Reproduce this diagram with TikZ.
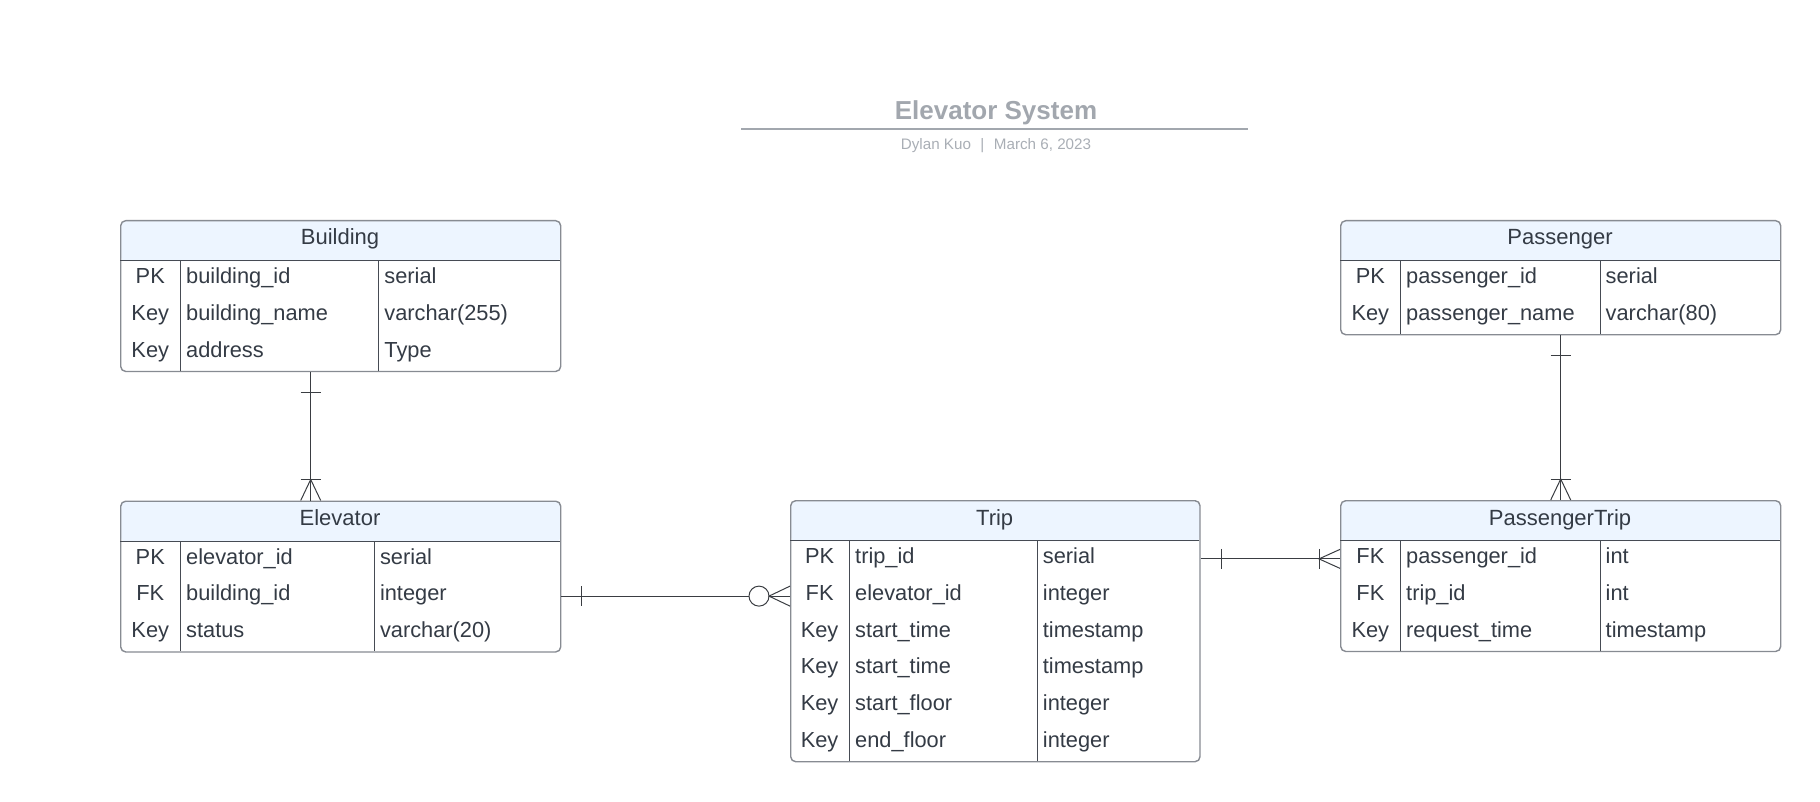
\documentclass[tikz,border=0pt]{standalone}
\usepackage{fontspec}
\setmainfont{Liberation Sans}
\usetikzlibrary{positioning,calc}
\definecolor{hdrblue}{HTML}{EDF5FF}
\definecolor{edgegray}{HTML}{878B92}
\definecolor{gridgray}{HTML}{464B53}
\definecolor{inkdark}{HTML}{343B45}
\definecolor{titlegray}{HTML}{A2A7AE}
\definecolor{subgray}{HTML}{A9AEB5}
\definecolor{linkgray}{HTML}{3A3D42}
\tikzset{
  tbl/.style={draw=edgegray,line width=1.4pt,rounded corners=5pt,fill=white,anchor=north west,inner sep=0pt,
    path picture={\fill[hdrblue] (path picture bounding box.north west) rectangle ([yshift=-40.5pt]path picture bounding box.north east);}},
  hdr/.style={font=\fontsize{22}{26}\selectfont,text=inkdark,anchor=base,inner sep=0pt},
  fld/.style={font=\fontsize{21.8}{26}\selectfont,text=inkdark,inner sep=0pt},
  grid/.style={draw=gridgray,line width=1pt},
  rel/.style={draw=linkgray,line width=1pt},
}

\begin{document}
\begin{tikzpicture}[x=1pt,y=-1pt]
\useasboundingbox (0,0) rectangle (1820,802);

% title block
\node[font=\bfseries\fontsize{26}{30}\selectfont,text=titlegray,anchor=base,inner sep=0pt] (title) at (996,119.5) {Elevator System};
\draw[titlegray,line width=1.8pt] ($(title.base)+(-254.6,9.3)$) -- ++(506.2,0);
\node[font=\fontsize{15.2}{18}\selectfont,text=subgray,anchor=base,inner sep=0pt] (byline) at (996,149.3) {Dylan Kuo\hspace{9.5pt}|\hspace{9.5pt}March 6, 2023};

% Building
\node[tbl,minimum width=440pt,minimum height=150.75pt] (building) at (120,220) {};
\node[hdr] (building-head) at (340,245) {Building};
\draw[grid] (120,260.5) -- (560,260.5) (180.5,260.5) -- (180.5,370.75) (378.7,260.5) -- (378.7,370.75);
\foreach \kind/\fname/\ftype [count=\i] in {PK/building\_id/serial,Key/building\_name/varchar(255),Key/address/Type}{
  \coordinate (building-r\i) at (340,{260.5+(\i-0.5)*36.75});
  \node[fld,anchor=base] (building-k\i) at (150.25,{260.5+(\i-1)*36.75+23}) {\kind};
  \node[fld,anchor=base west] (building-f\i) at (186,{260.5+(\i-1)*36.75+23}) {\fname};
  \node[fld,anchor=base west] (building-t\i) at (384.2,{260.5+(\i-1)*36.75+23}) {\ftype};
}

% Elevator
\node[tbl,minimum width=440pt,minimum height=150.75pt] (elevator) at (120,500.5) {};
\node[hdr] (elevator-head) at (340,525.5) {Elevator};
\draw[grid] (120,541) -- (560,541) (180.5,541) -- (180.5,651.25) (374.3,541) -- (374.3,651.25);
\foreach \kind/\fname/\ftype [count=\i] in {PK/elevator\_id/serial,FK/building\_id/integer,Key/status/varchar(20)}{
  \coordinate (elevator-r\i) at (340,{541+(\i-0.5)*36.75});
  \node[fld,anchor=base] (elevator-k\i) at (150.25,{541+(\i-1)*36.75+23}) {\kind};
  \node[fld,anchor=base west] (elevator-f\i) at (186,{541+(\i-1)*36.75+23}) {\fname};
  \node[fld,anchor=base west] (elevator-t\i) at (379.8,{541+(\i-1)*36.75+23}) {\ftype};
}

% Trip
\node[tbl,minimum width=409.3pt,minimum height=261pt] (trip) at (790,500) {};
\node[hdr] (trip-head) at (994.65,525) {Trip};
\draw[grid] (790,540.5) -- (1199.3,540.5) (849.3,540.5) -- (849.3,761) (1037.3,540.5) -- (1037.3,761);
\foreach \kind/\fname/\ftype [count=\i] in {PK/trip\_id/serial,FK/elevator\_id/integer,Key/start\_time/timestamp,Key/start\_time/timestamp,Key/start\_floor/integer,Key/end\_floor/integer}{
  \coordinate (trip-r\i) at (994.65,{540.5+(\i-0.5)*36.75});
  \node[fld,anchor=base] (trip-k\i) at (819.6,{540.5+(\i-1)*36.75+23}) {\kind};
  \node[fld,anchor=base west] (trip-f\i) at (855,{540.5+(\i-1)*36.75+23}) {\fname};
  \node[fld,anchor=base west] (trip-t\i) at (1042.7,{540.5+(\i-1)*36.75+23}) {\ftype};
}

% Passenger
\node[tbl,minimum width=440pt,minimum height=114pt] (passenger) at (1340,220) {};
\node[hdr] (passenger-head) at (1560,245) {Passenger};
\draw[grid] (1340,260.5) -- (1780,260.5) (1400.7,260.5) -- (1400.7,334) (1600.3,260.5) -- (1600.3,334);
\foreach \kind/\fname/\ftype [count=\i] in {PK/passenger\_id/serial,Key/passenger\_name/varchar(80)}{
  \coordinate (passenger-r\i) at (1560,{260.5+(\i-0.5)*36.75});
  \node[fld,anchor=base] (passenger-k\i) at (1370.35,{260.5+(\i-1)*36.75+23}) {\kind};
  \node[fld,anchor=base west] (passenger-f\i) at (1406,{260.5+(\i-1)*36.75+23}) {\fname};
  \node[fld,anchor=base west] (passenger-t\i) at (1605.5,{260.5+(\i-1)*36.75+23}) {\ftype};
}

% PassengerTrip
\node[tbl,minimum width=440pt,minimum height=150.75pt] (ptrip) at (1340,500) {};
\node[hdr] (ptrip-head) at (1560,525) {PassengerTrip};
\draw[grid] (1340,540.5) -- (1780,540.5) (1400.7,540.5) -- (1400.7,650.75) (1600.3,540.5) -- (1600.3,650.75);
\foreach \kind/\fname/\ftype [count=\i] in {FK/passenger\_id/int,FK/trip\_id/int,Key/request\_time/timestamp}{
  \coordinate (ptrip-r\i) at (1560,{540.5+(\i-0.5)*36.75});
  \node[fld,anchor=base] (ptrip-k\i) at (1370.35,{540.5+(\i-1)*36.75+23}) {\kind};
  \node[fld,anchor=base west] (ptrip-f\i) at (1406,{540.5+(\i-1)*36.75+23}) {\fname};
  \node[fld,anchor=base west] (ptrip-t\i) at (1605.5,{540.5+(\i-1)*36.75+23}) {\ftype};
}

% Building 1 -- n Elevator
\coordinate (b-out) at ([xshift=-30pt]building.south);
\coordinate (e-in) at ([xshift=-30pt]elevator.north);
\draw[rel] (b-out) -- (e-in);
\draw[rel] ($(b-out)+(-10,20)$) -- ++(20,0);
\draw[rel] ($(e-in)+(-10,-21)$) -- ++(20,0);
\draw[rel] ($(e-in)+(-10,0)$) -- ($(e-in)+(0,-21)$) -- ($(e-in)+(10,0)$);

% Elevator 1 -- 0..n Trip
\coordinate (e-out) at (elevator.east |- elevator-r2);
\coordinate (t-in) at (trip.west |- elevator-r2);
\draw[rel] (e-out) -- ($(t-in)+(-41,0)$);
\draw[rel] ($(e-out)+(20,-10)$) -- ++(0,20);
\draw[rel] ($(t-in)+(-31,0)$) circle[radius=10pt];
\draw[rel] ($(t-in)+(-21,0)$) -- (t-in);
\draw[rel] ($(t-in)+(0,-10)$) -- ($(t-in)+(-21,0)$) -- ($(t-in)+(0,10)$);

% Trip 1 -- n PassengerTrip
\coordinate (t-out) at (trip.east |- ptrip-r1);
\coordinate (pt-in) at (ptrip.west |- ptrip-r1);
\draw[rel] (t-out) -- (pt-in);
\draw[rel] ($(t-out)+(21,-10)$) -- ++(0,20);
\draw[rel] ($(pt-in)+(-21,-10)$) -- ++(0,20);
\draw[rel] ($(pt-in)+(0,-9.5)$) -- ($(pt-in)+(-21,0)$) -- ($(pt-in)+(0,9.5)$);

% Passenger 1 -- n PassengerTrip
\coordinate (p-out) at (passenger.south);
\coordinate (pt-top) at (ptrip.north);
\draw[rel] (p-out) -- (pt-top);
\draw[rel] ($(p-out)+(-10,20)$) -- ++(20,0);
\draw[rel] ($(pt-top)+(-10,-21)$) -- ++(20,0);
\draw[rel] ($(pt-top)+(-10,0)$) -- ($(pt-top)+(0,-21)$) -- ($(pt-top)+(10,0)$);
\end{tikzpicture}
\end{document}
